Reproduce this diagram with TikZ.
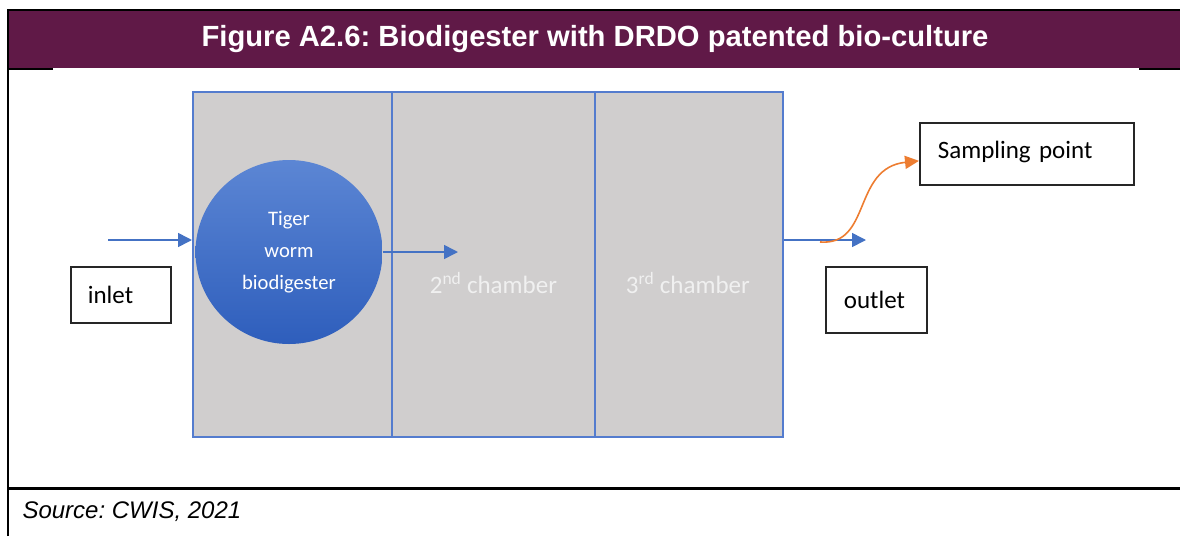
\documentclass[tikz,border=0pt]{standalone}
\usepackage{fontspec}
\setmainfont{Liberation Sans}
\newfontfamily\calibri{Carlito}
\usepackage{tikz}
\usetikzlibrary{arrows.meta,positioning,calc,shapes.geometric}
\frenchspacing

\definecolor{titlebar}{RGB}{96,25,71}
\definecolor{tankgray}{RGB}{208,206,206}
\definecolor{tankblue}{RGB}{84,124,206}
\definecolor{flowblue}{RGB}{68,114,196}
\definecolor{tapline}{RGB}{237,125,49}
\definecolor{wormtop}{RGB}{92,134,212}
\definecolor{wormbot}{RGB}{46,94,188}
\definecolor{boxline}{RGB}{38,38,38}

\tikzset{
  chamber/.style={draw=tankblue,fill=tankgray,line width=1.8pt,inner sep=0pt,minimum height=345pt,anchor=north west},
  tagbox/.style={draw=boxline,line width=1.7pt,inner ysep=0pt,align=left,anchor=north west,font=\calibri\fontsize{25}{30}\selectfont},
  chambertext/.style={text=white!94!black,font=\calibri\fontsize{25}{30}\selectfont},
  flow/.style={draw=flowblue,line width=1.6pt,-{Triangle[length=14pt,width=14pt]}},
  tapflow/.style={draw=tapline,line width=1.6pt,-{Triangle[length=14pt,width=13pt]}}
}

\begin{document}
\begin{tikzpicture}[x=1pt,y=-1pt,>=Latex]
  \useasboundingbox (0,0) rectangle (1180,536);
  % frame, heading and source line
  \fill[titlebar] (8,10) rectangle (1180,68);
  \node[text=white,font=\bfseries\fontsize{29.2}{35}\selectfont] (title) at (595,39) {Figure A2.6: Biodigester with DRDO patented bio-culture};
  \draw[line width=2.4pt] (8,536) -- (8,10) -- (1180,10);
  \draw[line width=2pt] (8,69) -- (53,69) (1139,69) -- (1180,69);
  \draw[line width=2.4pt] (8,488.5) -- (1180,488.5);
  \node[anchor=west,font=\itshape\fontsize{24}{28}\selectfont] (source) at (19,512) {Source: CWIS, 2021};

  % the three chambers
  \foreach \n/\x/\w in {c1/192/199,c2/391/203,c3/594/188}{
    \node[chamber,minimum width={\w pt}] (\n) at (\x,91) {};
  }
  \node[ellipse,minimum width=187pt,minimum height=184pt,inner sep=0pt,top color=wormtop,bottom color=wormbot,
        text=white,align=center,font=\calibri\fontsize{20.6}{32}\selectfont] (worm) at (289,252) {Tiger\\worm\\biodigester};
  \node[chambertext] (second) at ($(c2.center)+(0,19)$) {2\textsuperscript{nd} chamber};
  \node[chambertext] (third) at ($(c3.center)+(-1,19)$) {3\textsuperscript{rd} chamber};

  % labels outside
  \node[tagbox,text width=66pt,inner xsep=17pt,minimum height=56pt] (inlet) at (70,266) {inlet};
  \node[tagbox,text width=65pt,inner xsep=18pt,minimum height=66pt] (outlet) at (825,266) {outlet};
  \node[tagbox,text width=178pt,inner xsep=18pt,minimum height=62pt,text depth=9pt] (sampling) at (919,122) {Sampling point};

  % flows
  \coordinate (feed) at (108,240);
  \draw[flow] (feed) -- (feed -| c1.west);
  \coordinate (pass) at (458,252);
  \draw[flow] (worm.east) -- (pass);
  \coordinate (drain) at (866,240);
  \draw[flow] (drain -| c3.east) -- (drain);
  \coordinate (tap) at (820,242);
  \draw[tapflow] (tap) .. controls (872,246) and (852,168) .. ([yshift=-7pt]sampling.west);
\end{tikzpicture}
\end{document}
